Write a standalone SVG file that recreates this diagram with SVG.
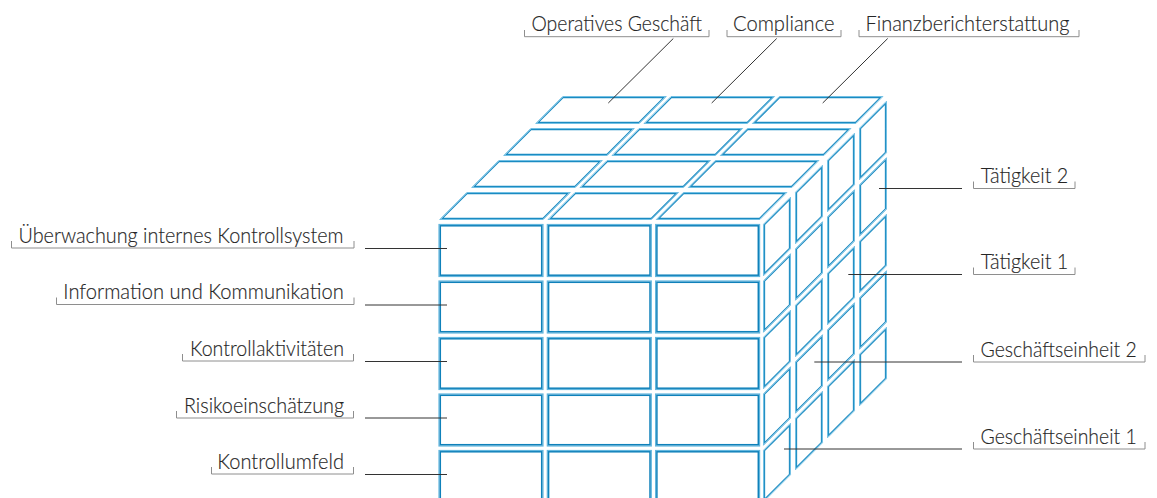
<svg xmlns="http://www.w3.org/2000/svg" xmlns:xlink="http://www.w3.org/1999/xlink" width="1157" height="498" viewBox="0 0 1157 498">
  <style>
    .lbl { font-family: Lato, "Liberation Sans", sans-serif; font-weight: 300; font-size: 21px; fill: #262626; stroke: #262626; stroke-width: 0.15; }
    .brk { fill: none; stroke: #8e8e8e; stroke-width: 1; }
    .con { fill: none; stroke: #333; stroke-width: 1; }
    .fo { fill: #fff; stroke: #63b7de; stroke-width: 1.2; }
    .fi { fill: none; stroke: #0f81ba; stroke-width: 1.5; }
    .so { fill: #fff; stroke: #72c0e4; stroke-width: 1; }
    .si { fill: none; stroke: #1a8bc2; stroke-width: 1.1; }
  </style>
  <defs>
    <!-- front cell: 105 x 53 -->
    <g id="fc">
      <rect class="fo" x="0.5" y="0.5" width="104" height="52"/>
      <rect class="fi" x="1.8" y="1.8" width="101.4" height="49.4"/>
    </g>
    <!-- top cell: 45 degree parallelogram, 105 wide, 28 deep -->
    <g id="tc">
      <polygon class="so" points="28.21,0.5 131.79,0.5 104.79,27.5 1.21,27.5"/>
      <polygon class="si" points="28.66,1.6 129.14,1.6 104.34,26.4 3.86,26.4"/>
    </g>
    <!-- side cell: 28 deep, 53 tall -->
    <g id="rc">
      <polygon class="so" points="0.5,28.21 27.5,1.21 27.5,52.79 0.5,79.79"/>
      <polygon class="si" points="1.6,28.66 26.4,3.86 26.4,52.34 1.6,77.14"/>
    </g>
  </defs>

  <!-- cube -->
  <g id="cube">
    <g id="cube-top">
      <use href="#tc" x="534.5" y="96"/><use href="#tc" x="642.8" y="96"/><use href="#tc" x="751.1" y="96"/>
      <use href="#tc" x="502.5" y="128"/><use href="#tc" x="610.8" y="128"/><use href="#tc" x="719.1" y="128"/>
      <use href="#tc" x="470.5" y="160"/><use href="#tc" x="578.8" y="160"/><use href="#tc" x="687.1" y="160"/>
      <use href="#tc" x="438.5" y="192"/><use href="#tc" x="546.8" y="192"/><use href="#tc" x="655.1" y="192"/>
    </g>
    <g id="cube-side">
      <use href="#rc" x="859" y="100"/><use href="#rc" x="859" y="156.5"/><use href="#rc" x="859" y="213"/><use href="#rc" x="859" y="269.5"/><use href="#rc" x="859" y="326"/>
      <use href="#rc" x="827" y="132"/><use href="#rc" x="827" y="188.5"/><use href="#rc" x="827" y="245"/><use href="#rc" x="827" y="301.5"/><use href="#rc" x="827" y="358"/>
      <use href="#rc" x="795" y="164"/><use href="#rc" x="795" y="220.5"/><use href="#rc" x="795" y="277"/><use href="#rc" x="795" y="333.5"/><use href="#rc" x="795" y="390"/>
      <use href="#rc" x="763" y="196"/><use href="#rc" x="763" y="252.5"/><use href="#rc" x="763" y="309"/><use href="#rc" x="763" y="365.5"/><use href="#rc" x="763" y="422"/>
    </g>
    <g id="cube-front">
      <use href="#fc" x="438.5" y="224"/><use href="#fc" x="546.8" y="224"/><use href="#fc" x="655.1" y="224"/>
      <use href="#fc" x="438.5" y="280.5"/><use href="#fc" x="546.8" y="280.5"/><use href="#fc" x="655.1" y="280.5"/>
      <use href="#fc" x="438.5" y="337"/><use href="#fc" x="546.8" y="337"/><use href="#fc" x="655.1" y="337"/>
      <use href="#fc" x="438.5" y="393.5"/><use href="#fc" x="546.8" y="393.5"/><use href="#fc" x="655.1" y="393.5"/>
      <use href="#fc" x="438.5" y="450"/><use href="#fc" x="546.8" y="450"/><use href="#fc" x="655.1" y="450"/>
    </g>
  </g>

  <!-- top labels -->
  <g id="operatives-geschaeft">
    <path class="brk" d="M524.5 30 V36.7 H709 V30"/>
    <text class="lbl" x="531.5" y="31" textLength="170.5" lengthAdjust="spacingAndGlyphs">Operatives Geschäft</text>
  </g>
  <g id="compliance">
    <path class="brk" d="M727 30 V36.7 H841 V30"/>
    <text class="lbl" x="733" y="31" textLength="101.5" lengthAdjust="spacingAndGlyphs">Compliance</text>
  </g>
  <g id="finanzberichterstattung">
    <path class="brk" d="M859 30 V36.7 H1079 V30"/>
    <text class="lbl" x="865.5" y="31" textLength="204" lengthAdjust="spacingAndGlyphs">Finanzberichterstattung</text>
  </g>

  <!-- left labels -->
  <g id="ueberwachung">
    <path class="brk" d="M11.5 241 V248 H354 V241"/>
    <text class="lbl" x="18.5" y="242.5" textLength="325" lengthAdjust="spacingAndGlyphs">Überwachung internes Kontrollsystem</text>
  </g>
  <g id="information">
    <path class="brk" d="M56.5 297.5 V304.5 H354 V297.5"/>
    <text class="lbl" x="63.3" y="299" textLength="280.5" lengthAdjust="spacingAndGlyphs">Information und Kommunikation</text>
  </g>
  <g id="kontrollaktivitaeten">
    <path class="brk" d="M182.5 354 V361 H353.5 V354"/>
    <text class="lbl" x="190" y="355.5" textLength="154" lengthAdjust="spacingAndGlyphs">Kontrollaktivitäten</text>
  </g>
  <g id="risikoeinschaetzung">
    <path class="brk" d="M176.5 411 V418 H353.5 V411"/>
    <text class="lbl" x="184" y="412.5" textLength="160" lengthAdjust="spacingAndGlyphs">Risikoeinschätzung</text>
  </g>
  <g id="kontrollumfeld">
    <path class="brk" d="M211.5 467 V474 H353.5 V467"/>
    <text class="lbl" x="217.3" y="468.5" textLength="126.7" lengthAdjust="spacingAndGlyphs">Kontrollumfeld</text>
  </g>

  <!-- right labels -->
  <g id="taetigkeit-2">
    <path class="brk" d="M973.5 181.5 V188.5 H1075 V181.5"/>
    <text class="lbl" x="980.7" y="183" textLength="87.6" lengthAdjust="spacingAndGlyphs">Tätigkeit 2</text>
  </g>
  <g id="taetigkeit-1">
    <path class="brk" d="M973.5 267.5 V274.5 H1075 V267.5"/>
    <text class="lbl" x="980.7" y="269" textLength="87.6" lengthAdjust="spacingAndGlyphs">Tätigkeit 1</text>
  </g>
  <g id="geschaeftseinheit-2">
    <path class="brk" d="M973.5 355 V362 H1145 V355"/>
    <text class="lbl" x="980.5" y="356.5" textLength="156.2" lengthAdjust="spacingAndGlyphs">Geschäftseinheit 2</text>
  </g>
  <g id="geschaeftseinheit-1">
    <path class="brk" d="M973.5 442 V449 H1145 V442"/>
    <text class="lbl" x="980.5" y="443.5" textLength="156.2" lengthAdjust="spacingAndGlyphs">Geschäftseinheit 1</text>
  </g>

  <!-- leader lines -->
  <g id="connectors">
    <line class="con" x1="673.3" y1="38.5" x2="608.3" y2="103"/>
    <line class="con" x1="776.7" y1="38.5" x2="711.7" y2="103"/>
    <line class="con" x1="887.7" y1="38.5" x2="822.7" y2="103"/>
    <line class="con" x1="365" y1="248.5" x2="447" y2="248.5"/>
    <line class="con" x1="365" y1="305" x2="447" y2="305"/>
    <line class="con" x1="365" y1="361.5" x2="447" y2="361.5"/>
    <line class="con" x1="365" y1="418" x2="447" y2="418"/>
    <line class="con" x1="365" y1="474.5" x2="447" y2="474.5"/>
    <line class="con" x1="879" y1="188.5" x2="962" y2="188.5"/>
    <line class="con" x1="848.3" y1="274.5" x2="962" y2="274.5"/>
    <line class="con" x1="814.3" y1="362" x2="962" y2="362"/>
    <line class="con" x1="784" y1="449" x2="962" y2="449"/>
  </g>
</svg>
